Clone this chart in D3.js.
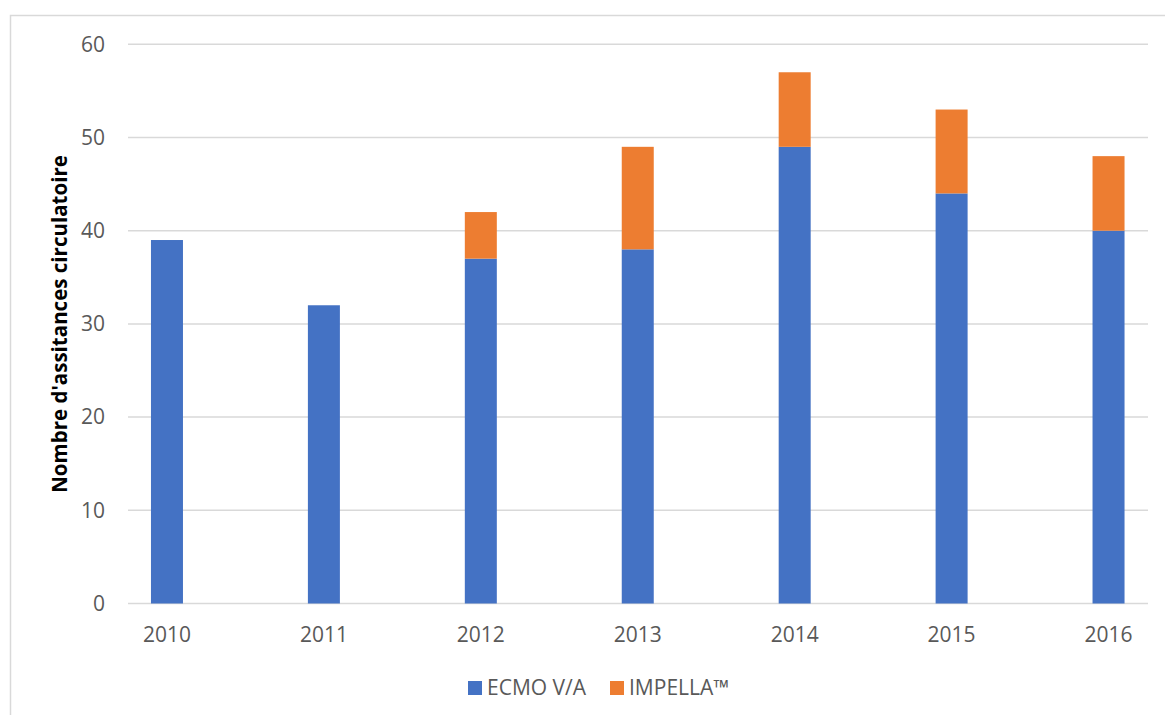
<!DOCTYPE html>
<html>
<head>
<meta charset="utf-8">
<script src="https://cdn.jsdelivr.net/npm/d3@7"></script>
<style>
  body { margin: 0; background: #fff; }
  svg text { font-family: "Open Sans", sans-serif; }
</style>
</head>
<body>
<div id="chart"></div>
<script>
// data
var years = ["2010", "2011", "2012", "2013", "2014", "2015", "2016"];
var ecmo = [39, 32, 37, 38, 49, 44, 40];
var impella = [0, 0, 5, 11, 8, 9, 8];
var yTicks = [0, 10, 20, 30, 40, 50, 60];
var seriesNames = ["ECMO V/A", "IMPELLA\u2122"];
var colors = ["#4472c4", "#ed7d31"];

var W = 1165, H = 715;
var gridLeft = 128, gridRight = 1148;

var svg = d3.select("#chart").append("svg")
    .attr("width", W)
    .attr("height", H);

// chart frame
svg.append("rect")
    .attr("x", 10.5).attr("y", 15.5)
    .attr("width", W + 10).attr("height", H + 10)
    .attr("fill", "none")
    .attr("stroke", "#d9d9d9")
    .attr("stroke-width", 1.5);

var x = d3.scaleBand()
    .domain(years)
    .range([88.5, 1187]);

var y = d3.scaleLinear()
    .domain([0, 60])
    .range([603.5, 44.3]);

var barW = 32;

// gridlines
svg.append("g").selectAll("line")
    .data(yTicks)
    .enter().append("line")
    .attr("x1", gridLeft).attr("x2", gridRight)
    .attr("y1", function (d) { return y(d); })
    .attr("y2", function (d) { return y(d); })
    .attr("stroke", "#d9d9d9")
    .attr("stroke-width", 1.5);

// y axis labels
svg.append("g").selectAll("text")
    .data(yTicks)
    .enter().append("text")
    .attr("x", 105)
    .attr("y", function (d) { return y(d); })
    .attr("dy", "0.35em")
    .attr("text-anchor", "end")
    .attr("font-size", 21)
    .attr("fill", "#595959")
    .text(function (d) { return d; });

// x axis labels
svg.append("g").selectAll("text")
    .data(years)
    .enter().append("text")
    .attr("x", function (d) { return x(d) + x.bandwidth() / 2; })
    .attr("y", 635)
    .attr("dy", "0.35em")
    .attr("text-anchor", "middle")
    .attr("font-size", 21)
    .attr("fill", "#595959")
    .text(function (d) { return d; });

// stacked bars
var rows = years.map(function (yr, i) {
    return { year: yr, ecmo: ecmo[i], impella: impella[i] };
});
var stack = d3.stack().keys(["ecmo", "impella"])(rows);

svg.append("g").selectAll("g")
    .data(stack)
    .enter().append("g")
    .attr("fill", function (d, i) { return colors[i]; })
    .selectAll("rect")
    .data(function (d) { return d; })
    .enter().append("rect")
    .attr("x", function (d) { return x(d.data.year) + x.bandwidth() / 2 - barW / 2; })
    .attr("width", barW)
    .attr("y", function (d) { return y(d[1]); })
    .attr("height", function (d) { return y(d[0]) - y(d[1]); });

// y axis title
svg.append("text")
    .attr("transform", "translate(67,324) rotate(-90)")
    .attr("text-anchor", "middle")
    .attr("font-size", 20.5)
    .attr("font-weight", "bold")
    .attr("fill", "#000")
    .text("Nombre d'assitances circulatoire");

// legend
var legendX = [468, 610];
var legend = svg.append("g").selectAll("g")
    .data(seriesNames)
    .enter().append("g")
    .attr("transform", function (d, i) { return "translate(" + legendX[i] + ",688)"; });

legend.append("rect")
    .attr("x", 0).attr("y", -7)
    .attr("width", 14).attr("height", 14)
    .attr("fill", function (d, i) { return colors[i]; });

legend.append("text")
    .attr("x", 19)
    .attr("y", 0)
    .attr("dy", "0.35em")
    .attr("font-size", 21)
    .attr("fill", "#595959")
    .text(function (d) { return d; });
</script>
</body>
</html>
